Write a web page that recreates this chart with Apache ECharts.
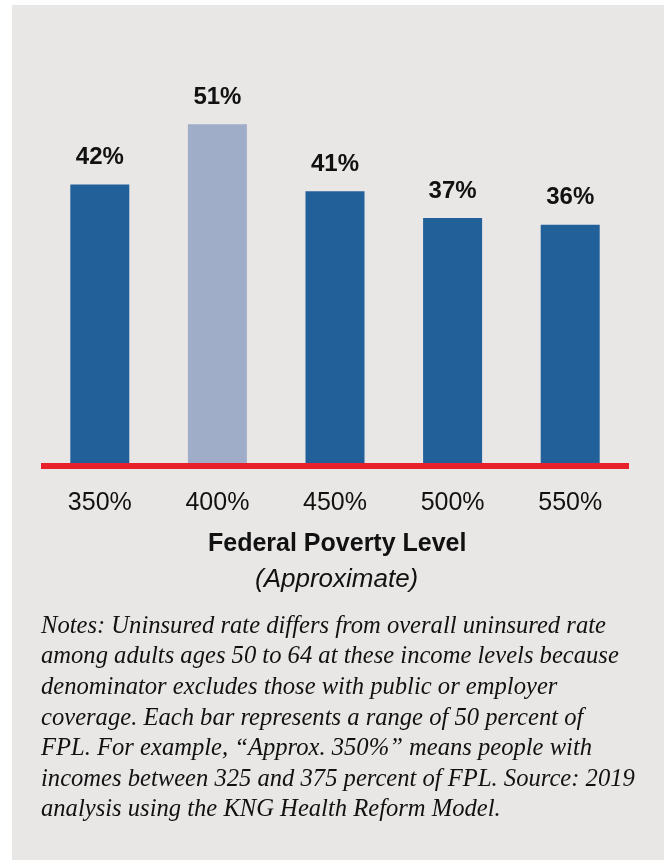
<!DOCTYPE html>
<html>
<head>
<meta charset="utf-8">
<title>Uninsured rate by Federal Poverty Level</title>
<script src="https://cdn.jsdelivr.net/npm/echarts@6/dist/echarts.min.js"></script>
<style>
  html, body { margin: 0; padding: 0; background: #ffffff; }
  #panel { position: absolute; left: 12px; top: 5px; width: 652px; height: 855px; background: #e9e7e6; }
  #chart { position: absolute; left: 0; top: 0; width: 664px; height: 861px; }
</style>
</head>
<body>
<div id="panel"></div>
<div id="chart"></div>
<script>
// Uninsured rate (%) at each approximate Federal Poverty Level band
const categories = ['350%', '400%', '450%', '500%', '550%'];
const uninsuredRate = [42, 51, 41, 37, 36];
const highlightIndex = 1;

const axisTitle = 'Federal Poverty Level';
const axisSubtitle = '(Approximate)';
const noteLines = [
  'Notes: Uninsured rate differs from overall uninsured rate',
  'among adults ages 50 to 64 at these income levels because',
  'denominator excludes those with public or employer',
  'coverage. Each bar represents a range of 50 percent of',
  'FPL. For example, \u201cApprox. 350%\u201d means people with',
  'incomes between 325 and 375 percent of FPL. Source: 2019',
  'analysis using the KNG Health Reform Model.'
];

const DARK_BLUE = '#22609a';
const LIGHT_BLUE = '#a0adc8';
const RED = '#e8202a';
const INK = '#111111';
const SANS = '"Liberation Sans", Arial, sans-serif';
const SERIF = '"Liberation Serif", "Times New Roman", serif';

// Width of a text run, used to center the axis title lines
const measure = (txt, font) => {
  const c = document.createElement('canvas').getContext('2d');
  c.font = font;
  return c.measureText(txt).width;
};
const centerX = 337;
const titleLeft = Math.round(centerX - measure(axisTitle, 'bold 25px ' + SANS) / 2);
const subtitleLeft = Math.round(centerX - measure(axisSubtitle, 'italic 26px ' + SANS) / 2);

const chart = echarts.init(document.getElementById('chart'), null, { renderer: 'canvas' });

chart.setOption({
  backgroundColor: 'transparent',
  animation: false,
  grid: { left: 41, right: 35, top: 64, bottom: 395, containLabel: false },
  xAxis: {
    type: 'category',
    data: categories,
    z: 3,
    axisLine: { show: true, lineStyle: { color: RED, width: 6, cap: 'butt' } },
    axisTick: { show: false },
    axisLabel: {
      margin: 25,
      fontFamily: SANS,
      fontSize: 25,
      color: INK
    }
  },
  yAxis: {
    type: 'value',
    min: 0,
    max: 60,
    show: false,
    splitLine: { show: false }
  },
  series: [{
    type: 'bar',
    barWidth: 59,
    data: uninsuredRate.map((v, i) => ({
      value: v,
      itemStyle: { color: i === highlightIndex ? LIGHT_BLUE : DARK_BLUE }
    })),
    label: {
      show: true,
      position: 'top',
      distance: 15,
      formatter: p => p.value + '%',
      fontFamily: SANS,
      fontWeight: 'bold',
      fontSize: 24,
      color: INK
    }
  }],
  graphic: [
    {
      type: 'text',
      left: titleLeft, top: 532,
      style: {
        text: axisTitle,
        fontFamily: SANS,
        fontWeight: 'bold',
        fontSize: 25,
        fill: INK
      }
    },
    {
      type: 'text',
      left: subtitleLeft, top: 567,
      style: {
        text: axisSubtitle,
        fontFamily: SANS,
        fontStyle: 'italic',
        fontSize: 26,
        fill: INK
      }
    },
    {
      type: 'text',
      left: 41, top: 611,
      style: {
        text: noteLines.join('\n'),
        fontFamily: SERIF,
        fontStyle: 'italic',
        fontSize: 24.6,
        lineHeight: 30.6,
        fill: INK
      }
    }
  ]
});
</script>
</body>
</html>
